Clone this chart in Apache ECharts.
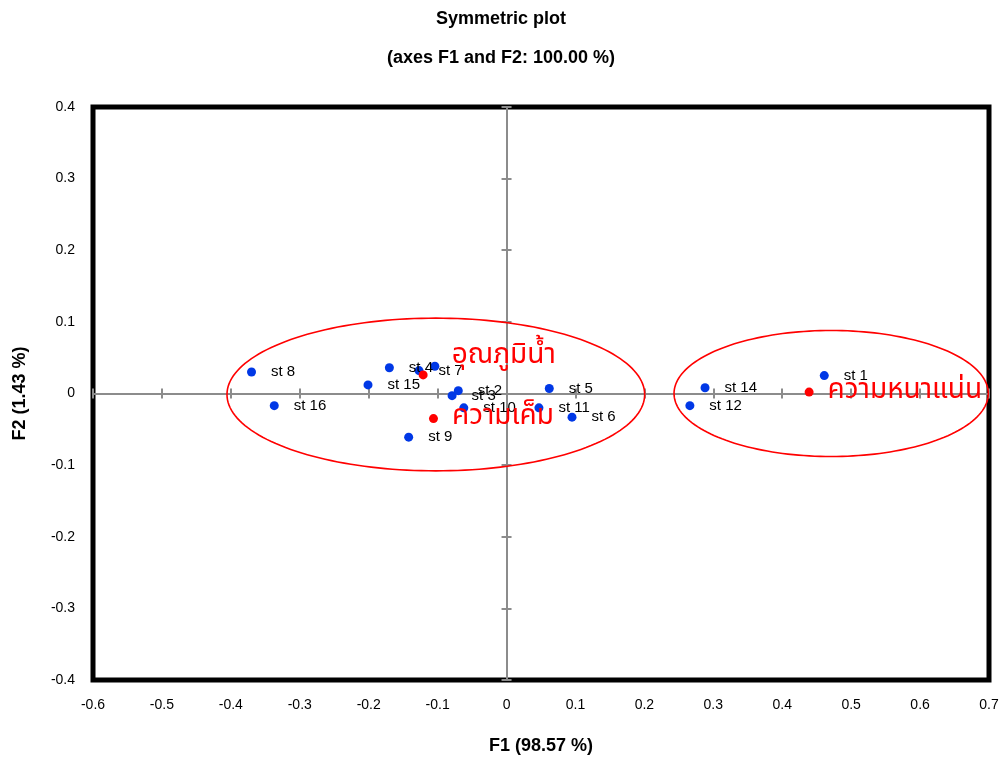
<!DOCTYPE html>
<html>
<head>
<meta charset="utf-8">
<script src="https://cdn.jsdelivr.net/npm/echarts@6/dist/echarts.min.js"></script>
<style>
html,body{margin:0;padding:0;background:#fff;}
#chart{width:1002px;height:758px;}
</style>
</head>
<body>
<div id="chart"></div>
<script>
// ---- data ----
const stNames = ['st 1','st 2','st 3','st 4','st 5','st 6','st 7','st 8','st 9','st 10','st 11','st 12','st 13','st 14','st 15','st 16'];
const stF1 = [0.461,-0.070,-0.079,-0.170,0.062,0.095,-0.127,-0.370,-0.142,-0.062,0.047,0.266,-0.104,0.288,-0.201,-0.337];
const stF2 = [0.025,0.004,-0.003,0.036,0.007,-0.033,0.032,0.030,-0.061,-0.020,-0.020,-0.017,0.038,0.008,0.012,-0.017];

const varNames = ['อุณภูมิน้ำ','ความเค็ม','ความหนาแน่น'];
const varF1 = [-0.121,-0.106,0.439];
const varF2 = [0.026,-0.035,0.002];

// ellipses: centre F1, centre F2, radius F1, radius F2
const ellCx = [-0.1026, 0.471];
const ellCy = [-0.0014, 0.000];
const ellRx = [0.303, 0.228];
const ellRy = [0.1066, 0.088];

const xTicks = {min:-0.6, max:0.7, step:0.1};
const yTicks = {min:-0.4, max:0.4, step:0.1};

// ---- style only ----
const hiddenLabels = ['st 13'];
const varLabelOffset = {'อุณภูมิน้ำ':[10,-18]};

const chart = echarts.init(document.getElementById('chart'), null, {renderer:'canvas'});

const font = 'Liberation Sans, Arial, sans-serif';
const thaiFont = 'Tahoma, "Noto Sans Thai", "Noto Sans", "DejaVu Sans", sans-serif';
const gray = '#8c8c8c';

const stData = stNames.map((n,i)=>{
  const it = {name:n, value:[stF1[i], stF2[i]]};
  if (hiddenLabels.indexOf(n) >= 0) it.label = {show:false};
  return it;
});
const varData = varNames.map((n,i)=>{
  const it = {name:n, value:[varF1[i], varF2[i]]};
  if (varLabelOffset[n]) it.label = {offset: varLabelOffset[n]};
  return it;
});
const ellData = ellCx.map((c,i)=>[c, ellCy[i], ellRx[i], ellRy[i]]);

function xAxisBase(extra){
  return Object.assign({
    type:'value', min:xTicks.min, max:xTicks.max, interval:xTicks.step,
    splitLine:{show:false}, gridIndex:0
  }, extra);
}
function yAxisBase(extra){
  return Object.assign({
    type:'value', min:yTicks.min, max:yTicks.max, interval:yTicks.step,
    splitLine:{show:false}, gridIndex:0
  }, extra);
}

const option = {
  backgroundColor:'#fff',
  animation:false,
  title:[
    {text:'Symmetric plot', left:'center', top:5,
     textStyle:{fontFamily:font, fontSize:18, fontWeight:'bold', color:'#000'}},
    {text:'(axes F1 and F2: 100.00 %)', left:'center', top:44,
     textStyle:{fontFamily:font, fontSize:18, fontWeight:'bold', color:'#000'}}
  ],
  grid:{left:93, right:13, top:107, bottom:78, show:true, borderColor:'#000', borderWidth:5,
        backgroundColor:'transparent', containLabel:false, outerBoundsMode:'none'},
  xAxis:[
    xAxisBase({position:'bottom', axisLine:{show:false, onZero:false}, axisTick:{show:false},
      axisLabel:{show:true, margin:18, fontFamily:font, fontSize:14, color:'#000'},
      name:'F1 (98.57 %)', nameLocation:'middle', nameGap:57,
      nameTextStyle:{fontFamily:font, fontSize:18, fontWeight:'bold', color:'#000'}}),
    xAxisBase({position:'bottom', axisLine:{show:true, onZero:true, onZeroAxisIndex:0, lineStyle:{color:gray, width:2}},
      axisTick:{show:true, inside:true, length:5, lineStyle:{color:gray, width:2}}, axisLabel:{show:false}}),
    xAxisBase({position:'bottom', axisLine:{show:false, onZero:true, onZeroAxisIndex:0},
      axisTick:{show:true, inside:false, length:5, lineStyle:{color:gray, width:2}}, axisLabel:{show:false}})
  ],
  yAxis:[
    yAxisBase({position:'left', axisLine:{show:false, onZero:false}, axisTick:{show:false},
      axisLabel:{show:true, margin:18, fontFamily:font, fontSize:14, color:'#000'},
      name:'F2 (1.43 %)', nameLocation:'middle', nameGap:64,
      nameTextStyle:{fontFamily:font, fontSize:18, fontWeight:'bold', color:'#000'}}),
    yAxisBase({position:'left', axisLine:{show:true, onZero:true, onZeroAxisIndex:0, lineStyle:{color:gray, width:2}},
      axisTick:{show:true, inside:true, length:5, lineStyle:{color:gray, width:2}}, axisLabel:{show:false}}),
    yAxisBase({position:'left', axisLine:{show:false, onZero:true, onZeroAxisIndex:0},
      axisTick:{show:true, inside:false, length:5, lineStyle:{color:gray, width:2}}, axisLabel:{show:false}})
  ],
  series:[
    {
      type:'custom', name:'ellipses', xAxisIndex:0, yAxisIndex:0, clip:false, z:1,
      data: ellData,
      encode:{x:0, y:1},
      renderItem:function(params, api){
        const c = api.coord([api.value(0), api.value(1)]);
        const s = api.size([api.value(2), api.value(3)]);
        const pts = [];
        for (let i=0;i<=180;i++){
          const t = i/180*2*Math.PI;
          pts.push([c[0]+s[0]*Math.cos(t), c[1]+s[1]*Math.sin(t)]);
        }
        return {type:'polygon', shape:{points:pts}, style:{fill:'none', stroke:'#ff0000', lineWidth:1.6}};
      }
    },
    {
      type:'scatter', name:'stations', xAxisIndex:0, yAxisIndex:0, z:3,
      symbol:'circle', symbolSize:9,
      itemStyle:{color:'#0038e6', opacity:1},
      label:{show:true, position:'right', distance:15, formatter:'{b}',
        fontFamily:font, fontSize:15, color:'#000'},
      data: stData
    },
    {
      type:'scatter', name:'variables', xAxisIndex:0, yAxisIndex:0, z:4,
      symbol:'circle', symbolSize:9,
      itemStyle:{color:'#ff0000', opacity:1},
      label:{show:true, position:'right', distance:14, formatter:'{b}',
        fontFamily:thaiFont, fontSize:28, color:'#ff0000'},
      data: varData
    }
  ]
};
chart.setOption(option);
</script>
</body>
</html>
